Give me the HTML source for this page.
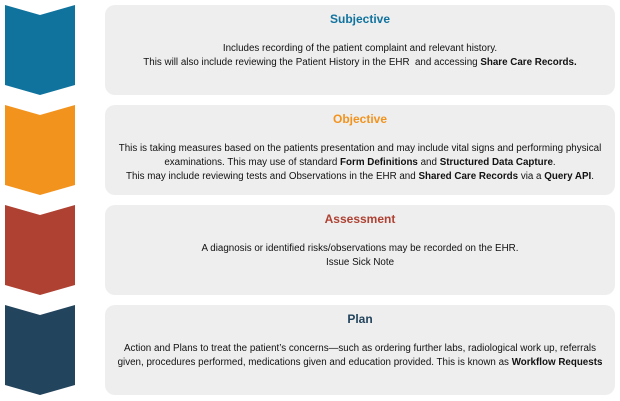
<!DOCTYPE html>
<html><head><meta charset="utf-8"><style>
body{margin:0;width:620px;height:401px;background:#fff;position:relative;overflow:hidden;font-family:"Liberation Sans",Helvetica,Arial,sans-serif;}
.box{position:absolute;left:105px;width:510px;height:90px;background:#eeeeee;border-radius:10px;}
.t{position:absolute;left:0;width:100%;text-align:center;font-weight:bold;font-size:12px;top:7px;}
.p{position:absolute;left:0;width:100%;text-align:center;font-size:9.8px;line-height:14px;color:#111;white-space:nowrap;}
svg{position:absolute;left:0;top:0}
</style></head><body>
<svg width="620" height="401">
<polygon points="5,5 40,15 75,5 75,85 40,95 5,85" fill="#10739e"/>
<polygon points="5,105 40,115 75,105 75,185 40,195 5,185" fill="#f2931e"/>
<polygon points="5,205 40,215 75,205 75,285 40,295 5,285" fill="#ae4132"/>
<polygon points="5,305 40,315 75,305 75,385 40,395 5,385" fill="#23445d"/>
</svg>
<div class="box" style="top:5px"><div class="t" style="color:#10739e">Subjective</div>
<div class="p" style="top:37px">Includes recording of the patient complaint and relevant history.<br>This will also include reviewing the Patient History in the EHR&nbsp; and accessing <b>Share Care Records.</b></div></div>
<div class="box" style="top:105px"><div class="t" style="color:#f2931e">Objective</div>
<div class="p" style="top:37px">This is taking measures based on the patients presentation and may include vital signs and performing physical<br>examinations. This may use of standard <b>Form Definitions</b> and <b>Structured Data Capture</b>.<br>This may include reviewing tests and Observations in the EHR and <b>Shared Care Records</b> via a <b>Query API</b>.</div></div>
<div class="box" style="top:205px"><div class="t" style="color:#ae4132">Assessment</div>
<div class="p" style="top:37px">A diagnosis or identified risks/observations may be recorded on the EHR.<br>Issue Sick Note</div></div>
<div class="box" style="top:305px"><div class="t" style="color:#23445d">Plan</div>
<div class="p" style="top:37px">Action and Plans to treat the patient’s concerns—such as ordering further labs, radiological work up, referrals<br>given, procedures performed, medications given and education provided. This is known as <b>Workflow Requests</b></div></div>
</body></html>
